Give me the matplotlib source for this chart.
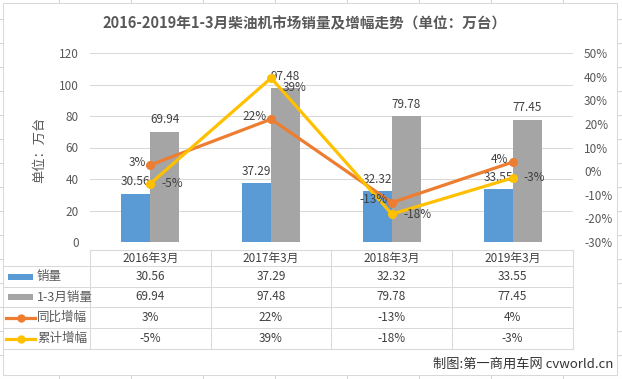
import matplotlib
matplotlib.use("Agg")
import matplotlib.pyplot as plt
from matplotlib.lines import Line2D
from matplotlib.patches import Rectangle

plt.rcParams['font.family'] = ['Noto Sans CJK SC', 'DejaVu Sans']

# ---------------- data ----------------
categories = ['2016年3月', '2017年3月', '2018年3月', '2019年3月']
sales = [30.56, 37.29, 32.32, 33.55]            # 销量
sales_q1 = [69.94, 97.48, 79.78, 77.45]         # 1-3月销量
yoy_growth = [2.6, 22.0, -13.3, 3.8]            # 同比增幅 (%)
cum_growth = [-5.3, 39.4, -18.2, -2.9]          # 累计增幅 (%)
series_names = ['销量', '1-3月销量', '同比增幅', '累计增幅']
title = '2016-2019年1-3月柴油机市场销量及增幅走势（单位：万台）'
ylabel = '单位：万台'
credit = '制图:第一商用车网 cvworld.cn'

# ---------------- style ----------------
W, H = 622, 379
C_BLUE = '#5B9BD5'
C_GRAY = '#A5A5A5'
C_ORANGE = '#ED7D31'
C_YELLOW = '#FFC000'
C_TXT = '#595959'
C_DARK = '#404040'
C_GRID = '#D9D9D9'
C_CELL = '#D4D4D4'

fig = plt.figure(figsize=(W / 100, H / 100), dpi=100)
fig.patch.set_facecolor('white')


def fx(x):
    return x / W


def fy(y):
    return 1 - y / H


def hline(x0, x1, y, color=C_GRID, lw=0.75, z=1):
    fig.add_artist(Line2D([fx(x0), fx(x1)], [fy(y), fy(y)], transform=fig.transFigure,
                          color=color, lw=lw, zorder=z))


def vline(x, y0, y1, color=C_GRID, lw=0.75, z=1):
    fig.add_artist(Line2D([fx(x), fx(x)], [fy(y0), fy(y1)], transform=fig.transFigure,
                          color=color, lw=lw, zorder=z))


# Excel cell grid in background
for k in range(16):
    hline(0, W, 19 + 24 * k, color=C_CELL, lw=0.75, z=0)
for k in range(9):
    vline(59 + 72 * k, 0, H, color=C_CELL, lw=0.75, z=0)
# chart area
fig.add_artist(Rectangle((fx(3), fy(375)), fx(617) - fx(3), fy(3) - fy(375),
                         transform=fig.transFigure, facecolor='white',
                         edgecolor=C_GRID, lw=0.75, zorder=0.5))

# ---------------- axes ----------------
x0, x1, ytop, ybot = 90, 573, 53, 242
ax = fig.add_axes([fx(x0), fy(ybot), fx(x1) - fx(x0), fy(ytop) - fy(ybot)])
ax.set_zorder(2)
ax.patch.set_alpha(0)
xs = list(range(len(categories)))
bw = 0.24
ax.bar([x - bw / 2 for x in xs], sales, width=bw, color=C_BLUE, zorder=2)
ax.bar([x + bw / 2 for x in xs], sales_q1, width=bw, color=C_GRAY, zorder=2)
ax.set_xlim(-0.5, len(categories) - 0.5)
ax.set_ylim(0, 120)
ax.set_yticks(range(0, 121, 20))
ax.set_xticks([])
ax.grid(axis='y', color=C_GRID, lw=0.75, zorder=0)
ax.set_axisbelow(True)
for s in ax.spines.values():
    s.set_visible(False)
ax.tick_params(axis='y', length=0, pad=8, labelsize=8.5, labelcolor=C_TXT)

for x, v in zip(xs, sales):
    ax.annotate(f'{v:.2f}', (x - bw / 2, v), xytext=(0, 4), textcoords='offset points',
                ha='center', va='bottom', fontsize=8.5, color=C_DARK, zorder=5)
for x, v in zip(xs, sales_q1):
    ax.annotate(f'{v:.2f}', (x + bw / 2, v), xytext=(0, 4), textcoords='offset points',
                ha='center', va='bottom', fontsize=8.5, color=C_DARK, zorder=5)

ax2 = ax.twinx()
ax2.set_zorder(3)
ax2.set_ylim(-30, 50)
ax2.set_yticks(range(-30, 51, 10))
ax2.set_yticklabels([f'{t}%' for t in range(-30, 51, 10)])
for s in ax2.spines.values():
    s.set_visible(False)
ax2.tick_params(axis='y', length=0, pad=8, labelsize=8.5, labelcolor=C_TXT)
ax2.plot(xs, yoy_growth, color=C_ORANGE, lw=2.3, marker='o', ms=5.5, zorder=4)
ax2.plot(xs, cum_growth, color=C_YELLOW, lw=2.3, marker='o', ms=5.5, zorder=4)

for x, v in zip(xs, yoy_growth):
    ax2.annotate(f'{round(v):d}%', (x, v), xytext=(-3, 2), textcoords='offset points',
                 ha='right', va='center', fontsize=8.5, color=C_DARK, zorder=6)
yel_dy = [0, -7, 0, 0]
for x, v, d in zip(xs, cum_growth, yel_dy):
    ax2.annotate(f'{round(v):d}%', (x, v), xytext=(8, d), textcoords='offset points',
                 ha='left', va='center', fontsize=8.5, color=C_DARK, zorder=6)

# title and y label
fig.text(fx(305), fy(23), title, ha='center', va='center', fontsize=10.5,
         fontweight='bold', color=C_TXT)
fig.text(fx(40), fy(150), ylabel, ha='center', va='center', rotation=90,
         fontsize=9.5, color=C_TXT)

# ---------------- data table ----------------
col_edges = [90, 211, 331, 452, 573]
row_edges = [250, 266, 287, 307, 328, 349]
hline(90, 573, row_edges[0])
for y in row_edges[1:]:
    hline(3, 573, y)
for x in col_edges:
    vline(x, row_edges[0], row_edges[-1])

for i, c in enumerate(categories):
    cx = (col_edges[i] + col_edges[i + 1]) / 2
    fig.text(fx(cx), fy((row_edges[0] + row_edges[1]) / 2), c, ha='center', va='center',
             fontsize=8.5, color=C_DARK)

rows = [
    [f'{v:.2f}' for v in sales],
    [f'{v:.2f}' for v in sales_q1],
    [f'{round(v):d}%' for v in yoy_growth],
    [f'{round(v):d}%' for v in cum_growth],
]
for r, vals in enumerate(rows):
    cy = (row_edges[r + 1] + row_edges[r + 2]) / 2
    for i, s in enumerate(vals):
        cx = (col_edges[i] + col_edges[i + 1]) / 2
        fig.text(fx(cx), fy(cy), s, ha='center', va='center', fontsize=8.5, color=C_DARK)
    # legend key
    if r < 2:
        col = C_BLUE if r == 0 else C_GRAY
        fig.add_artist(Rectangle((fx(8), fy(cy + 3)), fx(33) - fx(8), fy(cy - 3) - fy(cy + 3),
                                 transform=fig.transFigure, facecolor=col, edgecolor='none', zorder=3))
    else:
        col = C_ORANGE if r == 2 else C_YELLOW
        fig.add_artist(Line2D([fx(6), fx(35)], [fy(cy), fy(cy)], transform=fig.transFigure,
                              color=col, lw=2.3, zorder=3))
        fig.add_artist(Line2D([fx(21)], [fy(cy)], transform=fig.transFigure, color=col,
                              marker='o', ms=5, zorder=3))
    fig.text(fx(37), fy(cy), series_names[r], ha='left', va='center', fontsize=9, color=C_TXT)

fig.text(fx(613), fy(364), credit, ha='right', va='center', fontsize=9.5, color='#333333')

fig.savefig('out.png', dpi=100)
